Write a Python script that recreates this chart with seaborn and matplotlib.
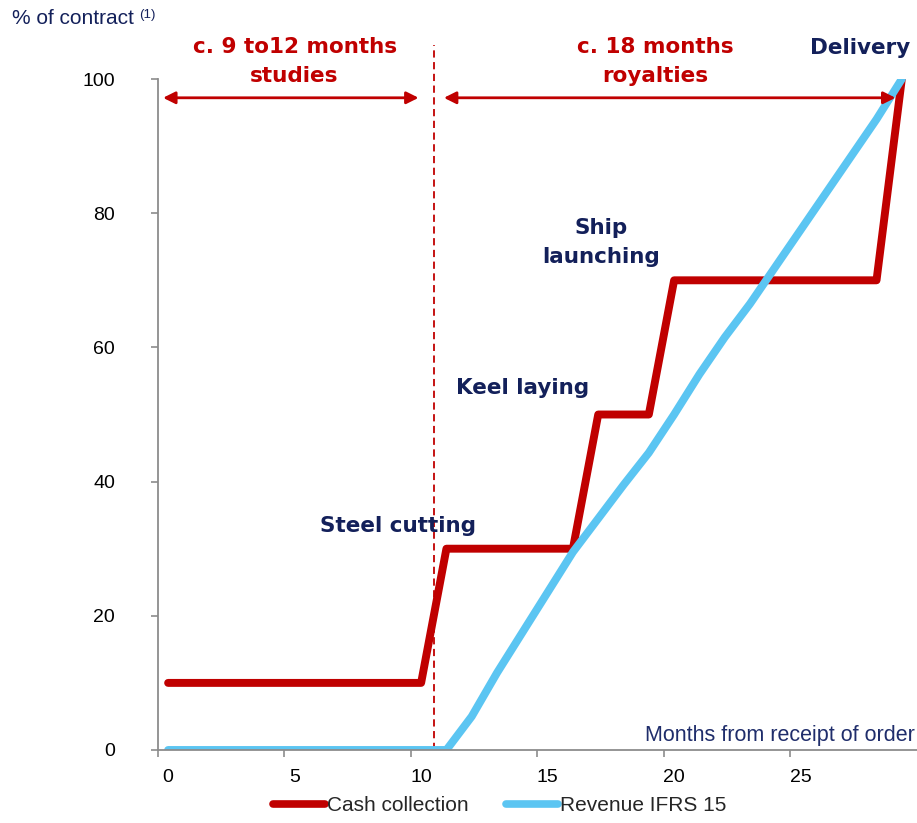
import seaborn as sns
import pandas as pd
import matplotlib.pyplot as plt
from matplotlib.lines import Line2D

# data (months 0..29, % of contract)
months = list(range(0, 30))
cash = [10]*11 + [30]*6 + [50]*3 + [70]*9 + [100]
revenue = [0]*12 + [5, 11.5, 17.5, 23.5, 29.5, 34.5, 39.5, 44.3,
                    50, 56, 61.5, 66.5, 72, 77.5, 83, 88.5, 94, 100]
series_names = ['Cash collection', 'Revenue IFRS 15']

red = '#C00000'
blue = '#5BC5F2'
navy = '#13205A'
grey = '#8C8C8C'

df = pd.DataFrame({
    'month': months*2,
    'pct': cash + revenue,
    'series': [series_names[0]]*len(months) + [series_names[1]]*len(months),
})

sns.set_style('white')
plt.rcParams['font.family'] = ['Liberation Sans', 'DejaVu Sans']

fig = plt.figure(figsize=(9.17, 8.23), dpi=100)
ax = fig.add_axes([0.1723, 0.0887, 0.8277, 0.8153])

sns.lineplot(data=df, x='month', y='pct', hue='series', hue_order=series_names,
             palette=[red, blue], linewidth=5.7, legend=False, ax=ax,
             solid_capstyle='round', solid_joinstyle='round')

ax.set_xlim(-0.4, 29.6)
ax.set_ylim(0, 100)
ax.set_xlabel('')
ax.set_ylabel('')
ax.set_yticks([0, 20, 40, 60, 80, 100])
ax.set_xticks([0, 5, 10, 15, 20, 25])
ax.set_xticks([-0.4, 4.6, 9.6, 14.6, 19.6, 24.6], minor=True)
ax.tick_params(axis='y', which='major', length=5, color=grey, width=1.2,
               pad=26, labelsize=14, labelcolor='black', left=True)
ax.tick_params(axis='x', which='major', length=0, pad=14, labelsize=14,
               labelcolor='black')
ax.tick_params(axis='x', which='minor', length=5, color=grey, width=1.2,
               bottom=True)
for s in ['top', 'right']:
    ax.spines[s].set_visible(False)
for s in ['left', 'bottom']:
    ax.spines[s].set_color(grey)
    ax.spines[s].set_linewidth(1.3)

# split between studies and royalties
ax.plot([10.5, 10.5], [0, 105], color=red, lw=1.3, ls=(0, (4, 2.5)),
        clip_on=False, zorder=1)

arrow = dict(arrowstyle='<|-|>', color=red, lw=2, mutation_scale=18,
             shrinkA=0, shrinkB=0)
ax.annotate('', xy=(-0.2, 97.2), xytext=(9.9, 97.2), arrowprops=arrow,
            annotation_clip=False)
ax.annotate('', xy=(10.9, 97.2), xytext=(28.75, 97.2), arrowprops=arrow,
            annotation_clip=False)

bold = dict(family='DejaVu Sans', fontweight='bold', fontsize=15.5,
            ha='center', va='center', linespacing=1.55, clip_on=False)
ax.text(5.0, 102.6, 'c. 9 to12 months\nstudies', color=red, **bold)
ax.text(19.25, 102.6, 'c. 18 months\nroyalties', color=red, **bold)
ax.text(27.35, 104.6, 'Delivery', color=navy, **bold)
ax.text(17.1, 75.6, 'Ship\nlaunching', color=navy, **bold)
ax.text(14.0, 54.0, 'Keel laying', color=navy, **bold)
ax.text(9.1, 33.4, 'Steel cutting', color=navy, **bold)

ax.text(29.5, 2.2, 'Months from receipt of order', color='#1F2D6B',
        fontsize=15.5, ha='right', va='center')

fig.text(0.013, 0.978, '% of contract', fontsize=15, color=navy,
         ha='left', va='center')
fig.text(0.152, 0.982, '(1)', fontsize=9.5, color=navy, ha='left', va='center')

handles = [Line2D([], [], color=red, lw=5.5, solid_capstyle='round'),
           Line2D([], [], color=blue, lw=5.5, solid_capstyle='round')]
fig.legend(handles, series_names, loc='center', bbox_to_anchor=(0.545, 0.021),
           ncol=2, frameon=False, fontsize=15, handlelength=2.5,
           handletextpad=0.1, columnspacing=1.8)

fig.savefig('out.png', dpi=100)
